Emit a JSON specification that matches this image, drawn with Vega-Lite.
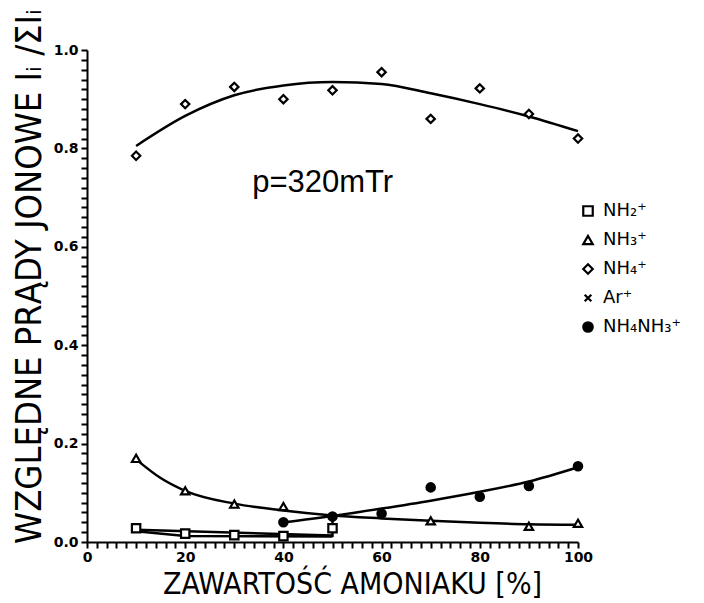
{
  "$schema": "https://vega.github.io/schema/vega-lite/v6.json",
  "width": 491,
  "height": 492,
  "autosize": {"type": "none"},
  "padding": {"left": 87, "top": 50, "right": 126, "bottom": 61},
  "background": "white",
  "config": {
    "view": {"stroke": null},
    "axis": {
      "grid": false,
      "ticks": true,
      "domainColor": "black",
      "domainWidth": 2,
      "tickColor": "black",
      "tickWidth": 2,
      "tickSize": 6,
      "labelOverlap": false,
      "labelFlush": false,
      "labelFont": "DejaVu Sans",
      "labelFontWeight": "bold",
      "labelFontSize": 14,
      "labelColor": "black",
      "titleFont": "Liberation Sans Narrow, DejaVu Sans Condensed, sans-serif",
      "titleFontWeight": "normal",
      "titleColor": "black"
    }
  },
  "datasets": {
    "pts": [
      {"series": "NH4+", "x": 10, "y": 0.785},
      {"series": "NH4+", "x": 20, "y": 0.89},
      {"series": "NH4+", "x": 30, "y": 0.925},
      {"series": "NH4+", "x": 40, "y": 0.9},
      {"series": "NH4+", "x": 50, "y": 0.918},
      {"series": "NH4+", "x": 60, "y": 0.955},
      {"series": "NH4+", "x": 70, "y": 0.86},
      {"series": "NH4+", "x": 80, "y": 0.922},
      {"series": "NH4+", "x": 90, "y": 0.87},
      {"series": "NH4+", "x": 100, "y": 0.82},
      {"series": "NH3+", "x": 10, "y": 0.17},
      {"series": "NH3+", "x": 20, "y": 0.104},
      {"series": "NH3+", "x": 30, "y": 0.077},
      {"series": "NH3+", "x": 40, "y": 0.072},
      {"series": "NH3+", "x": 70, "y": 0.043},
      {"series": "NH3+", "x": 90, "y": 0.032},
      {"series": "NH3+", "x": 100, "y": 0.038},
      {"series": "NH2+", "x": 10, "y": 0.028},
      {"series": "NH2+", "x": 20, "y": 0.017},
      {"series": "NH2+", "x": 30, "y": 0.014},
      {"series": "NH2+", "x": 40, "y": 0.012},
      {"series": "NH2+", "x": 50, "y": 0.028},
      {"series": "NH4NH3+", "x": 40, "y": 0.04},
      {"series": "NH4NH3+", "x": 50, "y": 0.052},
      {"series": "NH4NH3+", "x": 60, "y": 0.058},
      {"series": "NH4NH3+", "x": 70, "y": 0.111},
      {"series": "NH4NH3+", "x": 80, "y": 0.092},
      {"series": "NH4NH3+", "x": 90, "y": 0.114},
      {"series": "NH4NH3+", "x": 100, "y": 0.154}
    ],
    "curves": [
      {"c": "NH4+", "x": 10, "y": 0.805},
      {"c": "NH4+", "x": 20, "y": 0.866},
      {"c": "NH4+", "x": 30, "y": 0.908},
      {"c": "NH4+", "x": 40, "y": 0.928},
      {"c": "NH4+", "x": 50, "y": 0.935},
      {"c": "NH4+", "x": 60, "y": 0.931},
      {"c": "NH4+", "x": 70, "y": 0.912},
      {"c": "NH4+", "x": 80, "y": 0.89},
      {"c": "NH4+", "x": 90, "y": 0.865},
      {"c": "NH4+", "x": 100, "y": 0.835},
      {"c": "NH3+", "x": 10, "y": 0.168},
      {"c": "NH3+", "x": 15, "y": 0.13},
      {"c": "NH3+", "x": 20, "y": 0.104},
      {"c": "NH3+", "x": 30, "y": 0.078},
      {"c": "NH3+", "x": 40, "y": 0.064},
      {"c": "NH3+", "x": 50, "y": 0.054},
      {"c": "NH3+", "x": 60, "y": 0.048},
      {"c": "NH3+", "x": 70, "y": 0.043},
      {"c": "NH3+", "x": 80, "y": 0.039},
      {"c": "NH3+", "x": 90, "y": 0.036},
      {"c": "NH3+", "x": 100, "y": 0.035},
      {"c": "NH4NH3+", "x": 40, "y": 0.04},
      {"c": "NH4NH3+", "x": 50, "y": 0.053},
      {"c": "NH4NH3+", "x": 60, "y": 0.068},
      {"c": "NH4NH3+", "x": 70, "y": 0.084},
      {"c": "NH4NH3+", "x": 80, "y": 0.102},
      {"c": "NH4NH3+", "x": 90, "y": 0.123},
      {"c": "NH4NH3+", "x": 100, "y": 0.152}
    ],
    "poly": [
      {"seg": "a", "o": 1, "x": 10, "y": 0.025},
      {"seg": "a", "o": 2, "x": 50, "y": 0.013},
      {"seg": "a", "o": 3, "x": 50, "y": 0.045},
      {"seg": "b", "o": 1, "x": 10, "y": 0.022},
      {"seg": "b", "o": 2, "x": 20, "y": 0.012},
      {"seg": "b", "o": 3, "x": 50, "y": 0.011}
    ],
    "notes": [
      {"x": 48, "y": 0.73, "t": "p=320mTr"}
    ]
  },
  "encoding": {
    "x": {"field": "x", "type": "quantitative", "scale": {"domain": [0, 100], "nice": false},
      "axis": {
        "tickCount": 50,
        "labelExpr": "datum.value % 20 == 0 ? format(datum.value, 'd') : ''",
        "labelOverlap": false,
        "labelPadding": 2,
        "title": "ZAWARTOŚĆ  AMONIAKU [%]",
        "titleFontSize": 30,
        "titleX": 265,
        "titleY": 51,
        "titleBaseline": "alphabetic",
        "titleAnchor": "middle"
      }},
    "y": {"field": "y", "type": "quantitative", "scale": {"domain": [0, 1], "nice": false},
      "axis": {
        "tickCount": 50,
        "labelExpr": "abs(datum.value*5 - round(datum.value*5)) < 0.001 ? format(datum.value, '.1f') : ''",
        "labelOverlap": false,
        "labelPadding": 3,
        "title": "WZGLĘDNE  PRĄDY  JONOWE  Iᵢ /ΣIᵢ",
        "titleFontSize": 36,
        "titleX": -58,
        "titleY": 226,
        "titleBaseline": "middle",
        "titleAnchor": "middle"
      }}
  },
  "layer": [
    {
      "data": {"name": "curves"},
      "mark": {"type": "line", "color": "black", "strokeWidth": 2.5, "interpolate": "monotone"},
      "encoding": {
        "detail": {"field": "c"}
      }
    },
    {
      "data": {"name": "poly"},
      "mark": {"type": "line", "color": "black", "strokeWidth": 2.5},
      "encoding": {
        "detail": {"field": "seg"},
        "order": {"field": "o"}
      }
    },
    {
      "data": {"name": "pts"},
      "mark": {"type": "point", "strokeWidth": 2.2, "size": 70, "opacity": 1},
      "encoding": {
        "shape": {"field": "series", "type": "nominal",
          "scale": {"domain": ["NH2+", "NH3+", "NH4+", "Ar+", "NH4NH3+"],
            "range": ["square", "triangle-up", "diamond", "M-0.7,-0.7L0.7,0.7M0.7,-0.7L-0.7,0.7", "circle"]},
          "legend": {
            "title": null,
            "orient": "none",
            "legendX": 492,
            "legendY": 152,
            "labelExpr": "datum.value == 'NH2+' ? 'NH₂⁺' : datum.value == 'NH3+' ? 'NH₃⁺' : datum.value == 'NH4+' ? 'NH₄⁺' : datum.value == 'Ar+' ? 'Ar⁺' : 'NH₄NH₃⁺'",
            "labelFont": "DejaVu Sans",
            "labelFontSize": 18,
            "labelColor": "black",
            "symbolSize": 90,
            "symbolStrokeWidth": 2.2,
            "rowPadding": 10,
            "labelOffset": 6
          }},
        "fill": {"field": "series", "type": "nominal",
          "scale": {"domain": ["NH2+", "NH3+", "NH4+", "Ar+", "NH4NH3+"],
            "range": ["white", "white", "white", "white", "black"]}},
        "stroke": {"field": "series", "type": "nominal",
          "scale": {"domain": ["NH2+", "NH3+", "NH4+", "Ar+", "NH4NH3+"],
            "range": ["black", "black", "black", "black", "black"]}}
      }
    },
    {
      "data": {"name": "notes"},
      "mark": {"type": "text", "font": "Liberation Sans", "fontSize": 31, "color": "black", "align": "center", "baseline": "middle"},
      "encoding": {
        "text": {"field": "t"}
      }
    }
  ]
}
